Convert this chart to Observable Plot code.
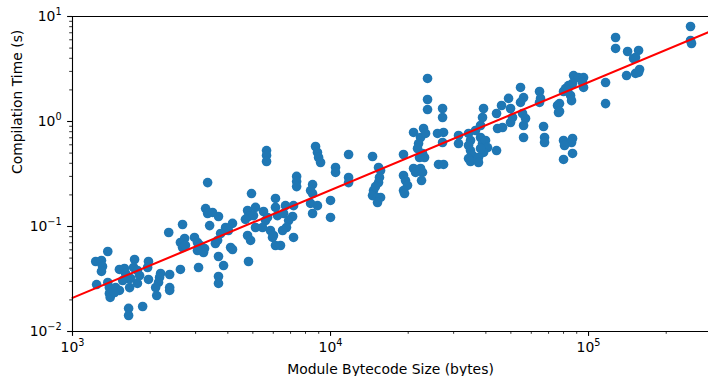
<!DOCTYPE html>
<html><head><meta charset="utf-8">
<script src="https://cdn.jsdelivr.net/npm/d3@7"></script>
<script src="https://cdn.jsdelivr.net/npm/@observablehq/plot@0.6"></script>
<style>html,body{margin:0;padding:0;background:#fff}svg{display:block}</style>
</head><body><div id="chart"></div>
<script>
// Module bytecode size (bytes)
const sizeBytes = [
  3340,3280,3340,3400,2670,2360,2620,2720,2670,2740,2970,3050,3130,3250,3220,3050,3080,2620,
  1370,1230,1295,1307,1295,1240,1370,1390,1390,1400,1470,1520,1455,1520,1590,1605,1635,1565,1680,1665,
  1740,1725,1785,1820,1785,1970,1955,1970,2195,2175,2155,2380,2100,2120,2380,2380,1650,1650,1870,
  5650,5650,5650,8750,8900,8990,9150,7390,7390,7390,8520,8520,8370,8900,8520,10000,10000,4940,6120,
  3490,3680,4770,4810,5120,5030,4680,5500,5700,5600,6120,6230,6580,6690,7190,7130,6880,6750,6520,
  5120,5450,5850,5960,6120,6400,6010,7190,4770,4900,4170,4020,3920,3750,3650,3580,4100,4170,3680,3850,
  4810,3680,3680,
  11750,14550,10460,10460,11750,11750,15350,15630,15480,15350,14680,14550,15210,15630,15210,14940,
  19180,20980,22940,22330,21940,21740,22730,23140,22130,25980,26220,20980,21360,22330,22730,22530,
  19180,19530,19880,19180,19360,8370,
  23770,23770,23770,27180,27180,23350,27420,27180,27420,31340,31340,34270,34880,34270,34880,35510,
  34270,34880,37460,37460,36480,38140,38820,39180,38140,38820,39880,40600,39180,38140,44000,44000,
  44400,46420,46000,48980,49850,50750,49850,54500,56000,55490,56000,56000,54500,56990,64580,64580,
  66940,67540,67540,75820,76500,
  248500,248500,250700,127300,127300,141700,156300,149400,152100,140400,152100,156300,157700,
  116400,116400,87480,91470,95640,95640,94770,86700,83660,81450,80000,85170,85930,82910,65170,
  77190,77190,80000,86700,85930,80720,86700,80000
];
// Compilation time (s)
const compileSec = [
  0.262,0.148,0.133,0.102,0.1045,0.0877,0.0704,0.0769,0.0631,0.0659,0.0786,0.0704,0.0659,0.0617,0.0565,0.0591,0.0407,0.0390,
  0.0578,0.0464,0.0475,0.0416,0.0373,0.0280,0.0293,0.0262,0.0230,0.0211,0.0262,0.0246,0.0235,0.0390,0.0398,0.0357,0.0320,0.0306,0.0320,0.0262,
  0.0485,0.0407,0.0381,0.0341,0.0287,0.0464,0.0407,0.0313,0.0357,0.0327,0.0293,0.0349,0.0262,0.0220,0.0262,0.0246,0.0166,0.0142,0.0173,
  0.529,0.475,0.416,0.578,0.507,0.454,0.407,0.300,0.268,0.240,0.251,0.206,0.166,0.158,0.133,0.177,0.122,0.206,0.185,
  0.136,0.1245,0.142,0.1245,0.152,0.127,0.117,0.139,0.122,0.114,0.152,0.127,0.133,0.158,0.158,0.1245,0.114,0.0978,0.0916,
  0.0978,0.0978,0.0916,0.0786,0.0659,0.0659,0.0821,0.0786,0.0821,0.0736,0.107,0.0916,0.0978,0.0858,0.0736,0.0689,0.0631,0.0604,0.0518,0.0425,
  0.0464,0.0334,0.0287,
  0.485,0.464,0.365,0.327,0.293,0.262,0.365,0.341,0.293,0.262,0.220,0.197,0.189,0.189,0.169,0.240,
  0.485,0.786,0.858,0.704,0.617,0.553,0.496,0.454,0.454,0.769,0.390,0.357,0.327,0.357,0.327,0.274,
  0.306,0.274,0.246,0.220,0.206,0.220,
  2.57,1.62,1.30,1.33,1.092,0.769,0.786,0.631,0.390,0.736,0.617,0.769,0.659,0.591,0.529,0.475,
  0.444,0.416,0.454,0.407,0.821,0.916,1.092,1.33,0.704,0.617,0.659,0.565,0.507,0.553,0.529,1.192,
  0.858,0.877,1.42,1.66,1.33,1.092,0.978,2.11,1.69,1.192,0.916,0.704,1.52,1.068,1.93,1.52,
  0.896,0.704,0.631,1.42,1.218,
  8.03,5.91,5.53,6.31,4.96,4.64,4.75,3.98,4.07,2.74,2.87,2.93,3.13,
  2.35,1.48,2.74,2.62,2.62,2.11,2.35,2.30,2.20,2.06,1.93,1.77,1.58,1.97,1.66,
  1.48,1.245,0.659,0.689,0.631,0.591,0.496,0.435
];
// Fitted trend line (read at the plot's left and right edges)
const fitSize = [1000, 291700];
const fitSec = [0.0209, 7.09];
// Axis ticks
const xMajor = [1e3, 1e4, 1e5];
const xMinor = [2e3,3e3,4e3,5e3,6e3,7e3,8e3,9e3,2e4,3e4,4e4,5e4,6e4,7e4,8e4,9e4,2e5];
const yMajor = [0.01, 0.1, 1, 10];
const yMinor = [0.02,0.03,0.04,0.05,0.06,0.07,0.08,0.09,0.2,0.3,0.4,0.5,0.6,0.7,0.8,0.9,2,3,4,5,6,7,8,9];
const xLabel = "Module Bytecode Size (bytes)";
const yLabel = "Compilation Time (s)";

const points = sizeBytes.map((x, i) => ({x, y: compileSec[i]}));
const fit = fitSize.map((x, i) => ({x, y: fitSec[i]}));
const fmt = d => "10^" + Math.round(Math.log10(d));

const chart = Plot.plot({
  width: 708, height: 376,
  marginLeft: 72, marginRight: 0, marginTop: 16, marginBottom: 45,
  style: {fontFamily: "'DejaVu Sans', sans-serif", fontSize: "13.9px", background: "#fff", color: "#000"},
  x: {type: "log", domain: [1000, 291700]},
  y: {type: "log", domain: [0.01, 10]},
  marks: [
    Plot.dot(points, {x: "x", y: "y", r: 4.8, fill: "#1f77b4", stroke: "none"}),
    Plot.line(fit, {x: "x", y: "y", stroke: "#ff0000", strokeWidth: 2.1}),
    Plot.ruleX([1000], {stroke: "#000", strokeWidth: 1.1}),
    Plot.ruleY([0.01], {stroke: "#000", strokeWidth: 1.1}),
    Plot.ruleY([10], {stroke: "#000", strokeWidth: 1.1}),
    Plot.axisX({ticks: xMinor, tickSize: 2.8, strokeWidth: 0.8, tickFormat: () => "", label: null}),
    Plot.axisY({ticks: yMinor, tickSize: 2.8, strokeWidth: 0.8, tickFormat: () => "", label: null}),
    Plot.axisX({ticks: xMajor, tickSize: 4.9, tickPadding: 6, strokeWidth: 1.1, tickFormat: fmt, label: null, fill: "#000"}),
    Plot.axisY({ticks: yMajor, tickSize: 4.9, tickPadding: 6, strokeWidth: 1.1, tickFormat: fmt, label: null, fill: "#000"}),
    Plot.text([xLabel], {frameAnchor: "bottom", dy: 42, fontSize: 13.9, fill: "#000"}),
    Plot.text([yLabel], {frameAnchor: "left", dx: -55, rotate: -90, fontSize: 13.9, fill: "#000"})
  ]
});

const ns = "http://www.w3.org/2000/svg";
chart.querySelectorAll("text").forEach(t => {
  const s = t.textContent;
  if (!/^10\^/.test(s)) return;
  const exp = s.slice(3).replace("-", "\u2212");
  t.textContent = "";
  const a = document.createElementNS(ns, "tspan"); a.textContent = "10";
  const b = document.createElementNS(ns, "tspan"); b.textContent = exp;
  b.setAttribute("font-size", "9.7"); b.setAttribute("dy", "-6");
  t.appendChild(a); t.appendChild(b);
});
document.getElementById("chart").appendChild(chart);
</script>
</body></html>
